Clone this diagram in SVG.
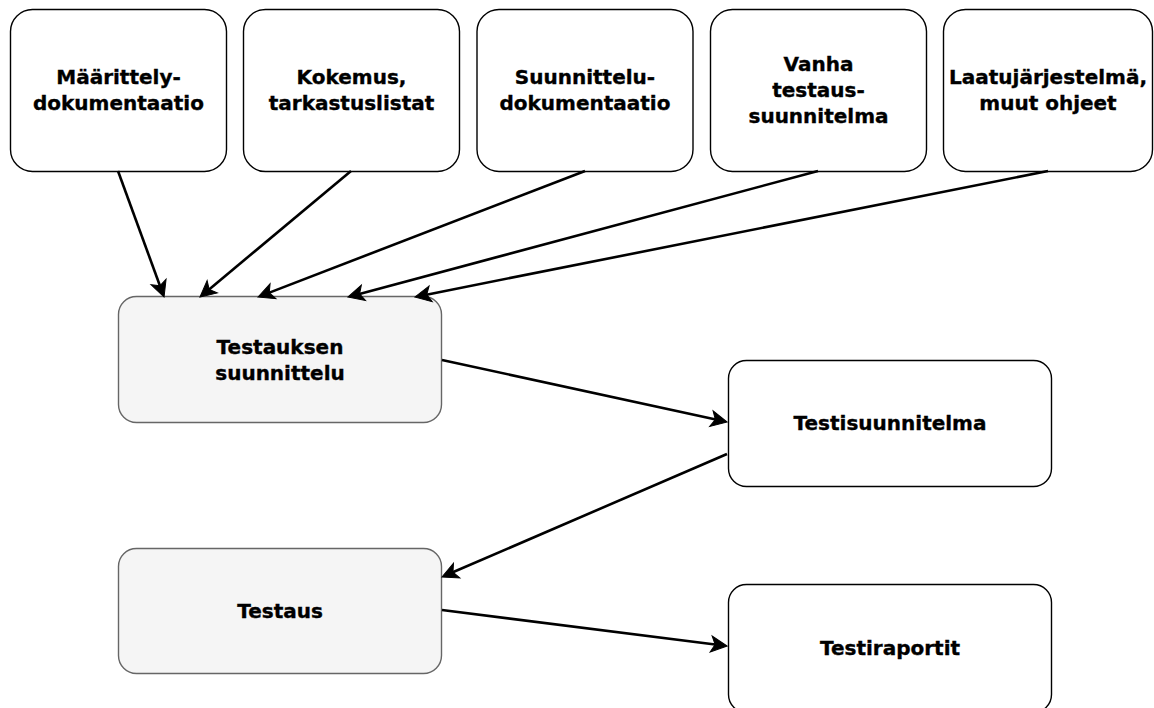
<svg xmlns="http://www.w3.org/2000/svg" width="1154" height="708" viewBox="0 0 1154 708">
  <style>
    .top { fill: #ffffff; stroke: #000000; stroke-width: 1.4; }
    .gray { fill: #f5f5f5; stroke: #666666; stroke-width: 1.4; }
    .white { fill: #ffffff; stroke: #000000; stroke-width: 1.4; }
    .lbl { font-family: "DejaVu Sans", Verdana, sans-serif; font-weight: bold; font-size: 20px; fill: #000000; stroke: #000000; stroke-width: 0.35; text-anchor: middle; }
    .edge { fill: none; stroke: #000000; stroke-width: 2.6; marker-end: url(#arrow); }
  </style>
  <defs>
    <marker id="arrow" viewBox="-9 -9 19 18" refX="0" refY="0" markerWidth="19" markerHeight="18" markerUnits="userSpaceOnUse" orient="auto" overflow="visible">
      <path d="M8,0 L-8,-8 L-4,0 L-8,8 Z" fill="#000000" stroke="#000000" stroke-width="1" stroke-linejoin="miter"/>
    </marker>
  </defs>
  <rect width="1154" height="708" fill="#ffffff"/>

  <g id="n-maarittely">
    <rect class="top" x="10.5" y="9.5" width="216" height="162" rx="22" ry="22"/>
    <text class="lbl" x="118.5" y="84">Määrittely-</text>
    <text class="lbl" x="118.5" y="110">dokumentaatio</text>
  </g>
  <g id="n-kokemus">
    <rect class="top" x="243.5" y="9.5" width="216" height="162" rx="22" ry="22"/>
    <text class="lbl" x="351.5" y="84">Kokemus,</text>
    <text class="lbl" x="351.5" y="110">tarkastuslistat</text>
  </g>
  <g id="n-suunnittelu">
    <rect class="top" x="477" y="9.5" width="216" height="162" rx="22" ry="22"/>
    <text class="lbl" x="585" y="84">Suunnittelu-</text>
    <text class="lbl" x="585" y="110">dokumentaatio</text>
  </g>
  <g id="n-vanha">
    <rect class="top" x="710.5" y="9.5" width="216" height="162" rx="22" ry="22"/>
    <text class="lbl" x="818.5" y="71">Vanha</text>
    <text class="lbl" x="818.5" y="97">testaus-</text>
    <text class="lbl" x="818.5" y="123">suunnitelma</text>
  </g>
  <g id="n-laatu">
    <rect class="top" x="943.5" y="9.5" width="209" height="162" rx="22" ry="22"/>
    <text class="lbl" x="1048" y="84">Laatujärjestelmä,</text>
    <text class="lbl" x="1048" y="110">muut ohjeet</text>
  </g>

  <g id="n-testauksen">
    <rect class="gray" x="118.5" y="296.5" width="323" height="126" rx="18" ry="18"/>
    <text class="lbl" x="280" y="354">Testauksen</text>
    <text class="lbl" x="280" y="380">suunnittelu</text>
  </g>
  <g id="n-testisuunnitelma">
    <rect class="white" x="728.5" y="360.5" width="323" height="126" rx="18" ry="18"/>
    <text class="lbl" x="890" y="430">Testisuunnitelma</text>
  </g>
  <g id="n-testaus">
    <rect class="gray" x="118.5" y="548.5" width="323" height="125" rx="18" ry="18"/>
    <text class="lbl" x="280" y="618">Testaus</text>
  </g>
  <g id="n-testiraportit">
    <rect class="white" x="728.5" y="584.5" width="323" height="128" rx="18" ry="18"/>
    <text class="lbl" x="890" y="655">Testiraportit</text>
  </g>

  <g id="connectors">
    <line class="edge" x1="118" y1="171" x2="161.3" y2="289.5"/>
    <line class="edge" x1="351" y1="171" x2="206.1" y2="291.9"/>
    <line class="edge" x1="585" y1="171" x2="265.5" y2="294.1"/>
    <line class="edge" x1="818" y1="171" x2="355.7" y2="294.9"/>
    <line class="edge" x1="1048" y1="171" x2="422.8" y2="295.4"/>
    <line class="edge" x1="442" y1="360" x2="719.2" y2="420.3"/>
    <line class="edge" x1="727" y1="454" x2="449.3" y2="573.8"/>
    <line class="edge" x1="442" y1="610" x2="719.1" y2="645"/>
  </g>
</svg>
